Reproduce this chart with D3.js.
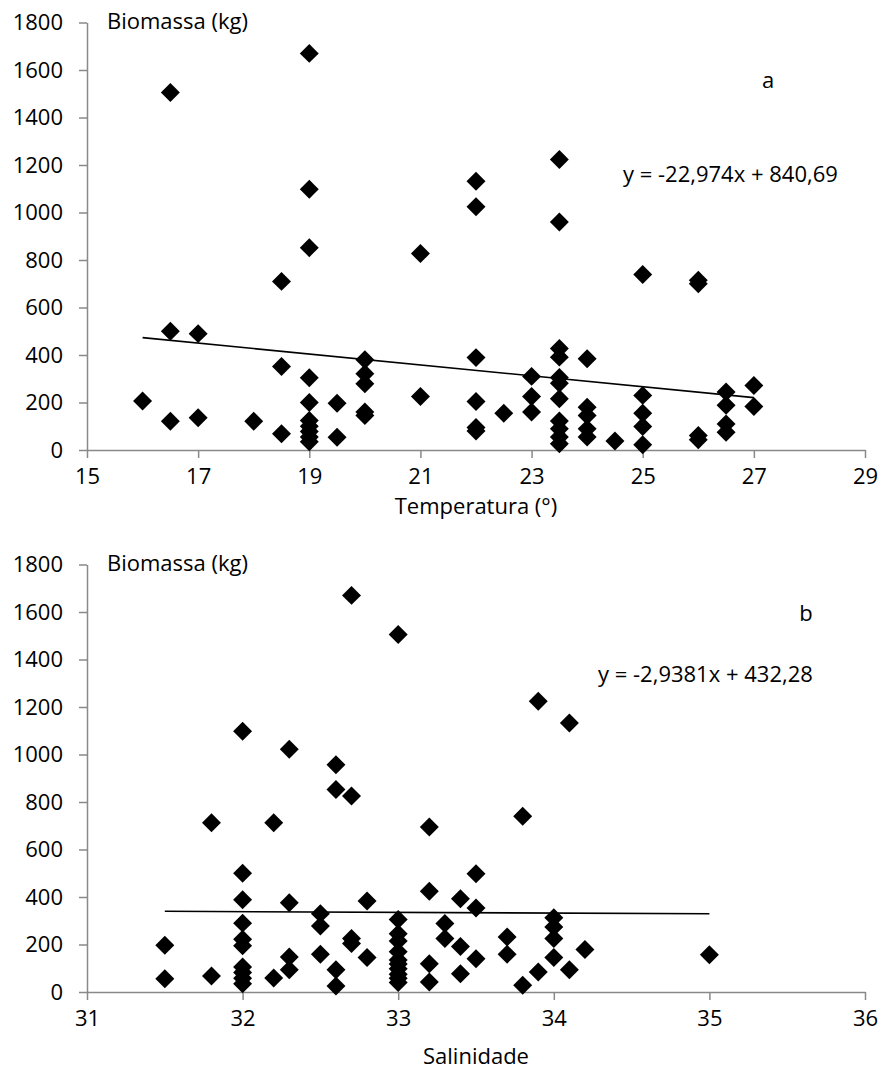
<!DOCTYPE html>
<html>
<head>
<meta charset="utf-8">
<script src="https://cdn.jsdelivr.net/npm/d3@7"></script>
<style>
  body { margin: 0; background: #fff; }
  text { font-family: 'Open Sans', sans-serif; fill: #000; }
</style>
</head>
<body>
<div id="chart"></div>
<script>
// panel a - temperature
var tempX = [16, 16.5, 16.5, 16.5, 17, 17, 18, 18.5, 18.5, 18.5,
  19, 19, 19, 19, 19, 19, 19, 19, 19, 19, 19.5, 19.5,
  20, 20, 20, 20, 20, 21, 21,
  22, 22, 22, 22, 22, 22, 22.5, 23, 23, 23,
  23.5, 23.5, 23.5, 23.5, 23.5, 23.5, 23.5, 23.5, 23.5, 23.5, 23.5,
  24, 24, 24, 24, 24, 24.5, 25, 25, 25, 25, 25,
  26, 26, 26, 26, 26.5, 26.5, 26.5, 26.5, 27, 27]
var tempBiomass = [206, 1505, 500, 121, 490, 136, 121, 710, 352, 68,
  1670, 1098, 852, 304, 200, 124, 100, 78, 55, 35, 197, 54,
  380, 321, 279, 160, 145, 827, 225,
  1132, 1024, 389, 204, 95, 80, 155, 310, 225, 160,
  1223, 960, 427, 391, 305, 281, 216, 122, 89, 55, 26,
  384, 180, 145, 89, 55, 38, 739, 230, 155, 99, 22,
  715, 700, 61, 43, 244, 188, 110, 75, 272, 183]
var tempTicks = [15, 17, 19, 21, 23, 25, 27, 29]
var tempFit = [-22.974, 840.69]

// panel b - salinity
var salX = [31.5, 31.5, 31.8, 31.8,
  32, 32, 32, 32, 32, 32, 32, 32, 32, 32, 32.2, 32.2,
  32.3, 32.3, 32.3, 32.3, 32.5, 32.5, 32.5, 32.6, 32.6, 32.6, 32.6,
  32.7, 32.7, 32.7, 32.7, 32.8, 32.8,
  33, 33, 33, 33, 33, 33, 33, 33, 33, 33, 33,
  33.2, 33.2, 33.2, 33.2, 33.3, 33.3, 33.4, 33.4, 33.4, 33.5, 33.5, 33.5,
  33.7, 33.7, 33.8, 33.8, 33.9, 33.9, 34, 34, 34, 34, 34.1, 34.1, 34.2, 35]
var salBiomass = [197, 56, 713, 67,
  1098, 500, 388, 290, 222, 195, 105, 82, 58, 35, 713, 59,
  1022, 376, 147, 94, 330, 278, 159, 957, 853, 94, 25,
  1670, 825, 225, 204, 383, 145,
  1505, 305, 245, 215, 170, 135, 118, 98, 75, 58, 40,
  695, 424, 119, 42, 288, 225, 393, 192, 77, 498, 354, 140,
  232, 159, 740, 28, 1224, 84, 313, 274, 225, 145, 1133, 94, 179, 157]
var salTicks = [31, 32, 33, 34, 35, 36]
var salFit = [-2.9381, 432.28]

var biomassTicks = [0, 200, 400, 600, 800, 1000, 1200, 1400, 1600, 1800]

var width = 879
var height = 1072
var axisColor = '#898989'
var fontSize = 22

var svg = d3
  .select('#chart')
  .append('svg')
  .attr('width', width)
  .attr('height', height)

function drawPanel(opts) {
  var x = d3.scaleLinear().domain(d3.extent(opts.ticks)).range([87, 865])
  var y = d3.scaleLinear().domain([0, 1800]).range([opts.bottom, opts.bottom - 427.5])

  var g = svg.append('g')

  var yAxis = g
    .append('g')
    .attr('transform', 'translate(' + x.range()[0] + ',0)')
    .call(
      d3.axisLeft(y).tickValues(biomassTicks).tickFormat(d3.format('d'))
        .tickSize(8).tickPadding(16).tickSizeOuter(0)
    )
  var xAxis = g
    .append('g')
    .attr('transform', 'translate(0,' + opts.bottom + ')')
    .call(
      d3.axisBottom(x).tickValues(opts.ticks).tickFormat(d3.format('d'))
        .tickSize(8).tickPadding(10).tickSizeOuter(0)
    )

  ;[yAxis, xAxis].forEach(function (a) {
    a.select('.domain').attr('stroke', axisColor).attr('stroke-width', 1.5)
    a.selectAll('.tick line').attr('stroke', axisColor).attr('stroke-width', 1.5)
    a.selectAll('.tick text')
      .attr('font-size', fontSize)
      .attr('font-family', "'Open Sans', sans-serif")
      .attr('fill', '#000')
  })

  var points = opts.xs.map(function (v, i) {
    return { x: v, y: opts.ys[i] }
  })

  // linear trend line over the data range
  var xr = d3.extent(opts.xs)
  g.append('line')
    .attr('x1', x(xr[0]))
    .attr('y1', y(opts.fit[0] * xr[0] + opts.fit[1]))
    .attr('x2', x(xr[1]))
    .attr('y2', y(opts.fit[0] * xr[1] + opts.fit[1]))
    .attr('stroke', '#000')
    .attr('stroke-width', 1.6)

  var diamond = d3.symbol().type(d3.symbolSquare).size(180)
  g.selectAll('.pt')
    .data(points)
    .enter()
    .append('path')
    .attr('class', 'pt')
    .attr('d', diamond)
    .attr('transform', function (d) {
      return 'translate(' + x(d.x) + ',' + y(d.y) + ') rotate(45)'
    })
    .attr('fill', '#000')

  g.append('text')
    .attr('x', 107)
    .attr('y', opts.bottom - 421)
    .attr('font-size', fontSize)
    .text('Biomassa (kg)')

  g.append('text')
    .attr('x', opts.letterX)
    .attr('y', opts.letterY)
    .attr('text-anchor', 'middle')
    .attr('font-size', fontSize)
    .text(opts.letter)

  g.append('text')
    .attr('x', opts.eqX)
    .attr('y', opts.eqY)
    .attr('font-size', fontSize)
    .text(opts.equation)

  g.append('text')
    .attr('x', (x.range()[0] + x.range()[1]) / 2)
    .attr('y', opts.titleY)
    .attr('text-anchor', 'middle')
    .attr('font-size', fontSize)
    .text(opts.title)
}

drawPanel({
  xs: tempX,
  ys: tempBiomass,
  ticks: tempTicks,
  fit: tempFit,
  bottom: 450,
  letter: 'a',
  letterX: 768,
  letterY: 88,
  equation: 'y = -22,974x + 840,69',
  eqX: 623,
  eqY: 182,
  title: 'Temperatura (°)',
  titleY: 514
})

drawPanel({
  xs: salX,
  ys: salBiomass,
  ticks: salTicks,
  fit: salFit,
  bottom: 992,
  letter: 'b',
  letterX: 806,
  letterY: 621,
  equation: 'y = -2,9381x + 432,28',
  eqX: 598,
  eqY: 682,
  title: 'Salinidade',
  titleY: 1064
})
</script>
</body>
</html>
